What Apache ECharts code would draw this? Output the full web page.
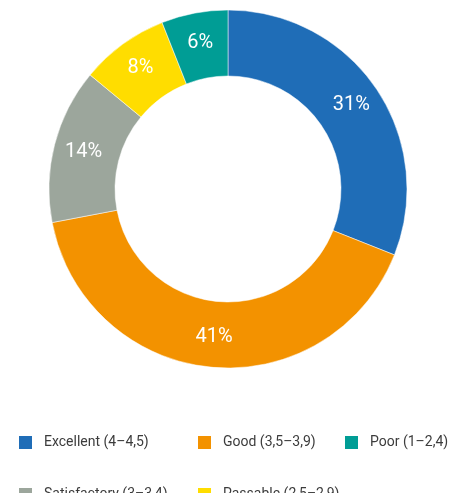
<!DOCTYPE html>
<html>
<head>
<meta charset="utf-8">
<script src="https://cdn.jsdelivr.net/npm/echarts@6/dist/echarts.min.js"></script>
<style>
  html, body { margin: 0; padding: 0; background: #fff; }
  #chart { width: 452px; height: 493px; }
</style>
</head>
<body>
<div id="chart"></div>
<script>
// pie order, clockwise from 12 o'clock
const grades = ['Excellent (4–4,5)', 'Good (3,5–3,9)', 'Satisfactory (3–3,4)', 'Passable (2,5–2,9)', 'Poor (1–2,4)']
const shares = [31, 41, 14, 8, 6]
const colors = ['#1f6db7', '#f39200', '#9ca69c', '#ffdd00', '#009d95']

// legend items in the order they sit under the chart (two rows)
const legendOrder = [grades[0], grades[1], grades[4], grades[2], grades[3]]
const legendPos = [[17, 434], [196, 434], [343, 434], [17, 486], [196, 486]]

const chart = echarts.init(document.getElementById('chart'))

chart.setOption({
  animation: false,
  color: colors,
  legend: legendOrder.map((name, i) => ({
    left: legendPos[i][0],
    top: legendPos[i][1],
    padding: 0,
    icon: 'rect',
    itemWidth: 15,
    itemHeight: 15,
    selectedMode: false,
    textStyle: {
      fontFamily: 'Roboto',
      fontSize: 14,
      color: '#3c3c3c',
      padding: [0, 0, 0, 6]
    },
    data: [name]
  })),
  series: [{
    type: 'pie',
    center: [228, 189],
    radius: [113, 179],
    startAngle: 90,
    clockwise: true,
    label: {
      show: true,
      position: 'inside',
      formatter: '{c}%',
      color: '#fff',
      fontFamily: 'Roboto',
      fontSize: 20
    },
    labelLine: { show: false },
    itemStyle: { borderColor: '#fff', borderWidth: 0.5 },
    emphasis: { disabled: true },
    data: grades.map((g, i) => ({ name: g, value: shares[i] }))
  }]
})
</script>
</body>
</html>
